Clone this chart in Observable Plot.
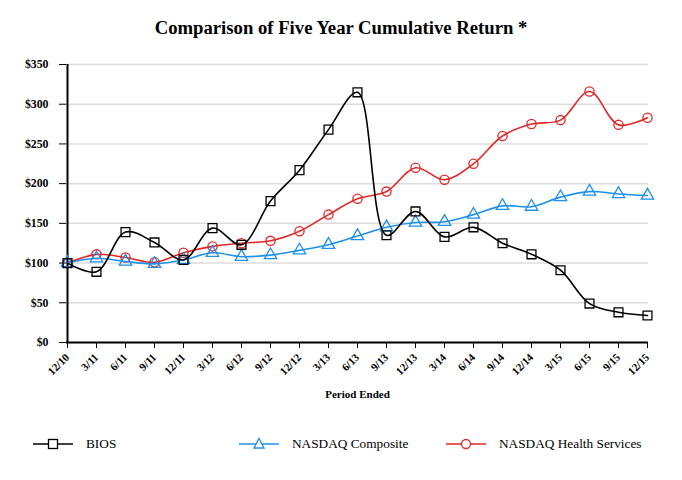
<!DOCTYPE html>
<html>
<head>
<meta charset="utf-8">
<script src="https://cdn.jsdelivr.net/npm/d3@7"></script>
<script src="https://cdn.jsdelivr.net/npm/@observablehq/plot@0.6"></script>
<style>
  body { margin: 0; background: white; font-family: "Liberation Serif", "DejaVu Serif", "Times New Roman", serif; }
  #wrap { position: relative; width: 682px; height: 480px; }
  #title { position: absolute; left: 0; top: 17px; width: 682px; text-align: center; font-weight: bold; font-size: 18.7px; font-family: "Liberation Serif", "DejaVu Serif", serif; }
  #chart { position: absolute; left: 0; top: 50px; }
  .leg { position: absolute; top: 436px; font-size: 13.3px; display: flex; align-items: center; font-family: "Liberation Serif", "DejaVu Serif", serif; }
  .leg svg { margin-right: 13px; }
  #chart svg text { font-family: "Liberation Serif", "DejaVu Serif", serif; }
</style>
</head>
<body>
<div id="wrap">
  <div id="title">Comparison of Five Year Cumulative Return *</div>
  <div id="chart"></div>
  <div class="leg" style="left:33px"><svg width="40" height="16"><line x1="0" x2="40" y1="8" y2="8" stroke="black" stroke-width="1.5"/><rect x="15.5" y="3.5" width="9" height="9" fill="white" stroke="black" stroke-width="1.3"/></svg>BIOS</div>
  <div class="leg" style="left:239px"><svg width="40" height="16"><line x1="0" x2="40" y1="8" y2="8" stroke="#1e90e8" stroke-width="1.5"/><path d="M20,2.5 L25,12 L15,12 Z" fill="white" stroke="#1e90e8" stroke-width="1.3"/></svg>NASDAQ Composite</div>
  <div class="leg" style="left:446px"><svg width="40" height="16"><line x1="0" x2="40" y1="8" y2="8" stroke="#e02828" stroke-width="1.5"/><circle cx="20" cy="8" r="4.5" fill="white" stroke="#e02828" stroke-width="1.3"/></svg>NASDAQ Health Services</div>
</div>
<script>
const dates = ["12/10","3/11","6/11","9/11","12/11","3/12","6/12","9/12","12/12","3/13","6/13","9/13","12/13","3/14","6/14","9/14","12/14","3/15","6/15","9/15","12/15"];
const bios = [100, 89, 139, 126, 104, 144, 123, 178, 217, 268, 315, 135, 165, 133, 145, 125, 111, 91, 49, 38, 34];
const composite = [100, 106, 102, 99, 104, 113, 108, 110, 116, 123, 134, 145, 151, 152, 161, 172, 171, 183, 190, 187, 185];
const health = [100, 111, 107, 101, 113, 121, 125, 128, 140, 161, 181, 190, 220, 205, 225, 260, 275, 280, 316, 274, 283];
const yTicks = [0, 50, 100, 150, 200, 250, 300, 350];

const series = [
  {name: "NASDAQ Health Services", values: health, color: "#e02828", symbol: "circle", r: 4.6},
  {name: "NASDAQ Composite", values: composite, color: "#1e90e8", symbol: "triangle", r: 4.6},
  {name: "BIOS", values: bios, color: "black", symbol: "square", r: 5}
];

const marks = [
  Plot.gridY(yTicks, {stroke: "#dcdcdc", strokeOpacity: 1, strokeWidth: 1.5}),
  Plot.axisY(yTicks, {tickFormat: d => "$" + d, tickSize: 7, tickPadding: 11, fontSize: 11.8, fontWeight: "bold", label: null}),
  Plot.axisX({tickRotate: -45, tickSize: 6, tickPadding: 7, fontSize: 11, fontWeight: "bold", label: null}),
  Plot.ruleY([0], {stroke: "black", strokeWidth: 2}),
  Plot.ruleX([dates[0]], {stroke: "black", strokeWidth: 2}),
  Plot.text(["Period Ended"], {frameAnchor: "bottom", dy: 55, fontSize: 11, fontWeight: "bold"})
];
for (const s of series) {
  const rows = dates.map((d, i) => ({date: d, value: s.values[i]}));
  marks.push(Plot.line(rows, {x: "date", y: "value", stroke: s.color, strokeWidth: 1.6, curve: "catmull-rom"}));
  marks.push(Plot.dot(rows, {x: "date", y: "value", stroke: s.color, fill: "none", strokeWidth: 1.3, symbol: s.symbol, r: s.r}));
}

const chart = Plot.plot({
  width: 682,
  height: 365,
  marginLeft: 66,
  marginRight: 34,
  marginTop: 14,
  marginBottom: 73,
  style: {fontFamily: "'Liberation Serif', 'DejaVu Serif', serif", background: "white", color: "black"},
  x: {type: "point", domain: dates, padding: 0},
  y: {domain: [0, 350]},
  marks
});
document.getElementById("chart").appendChild(chart);
</script>
</body>
</html>
